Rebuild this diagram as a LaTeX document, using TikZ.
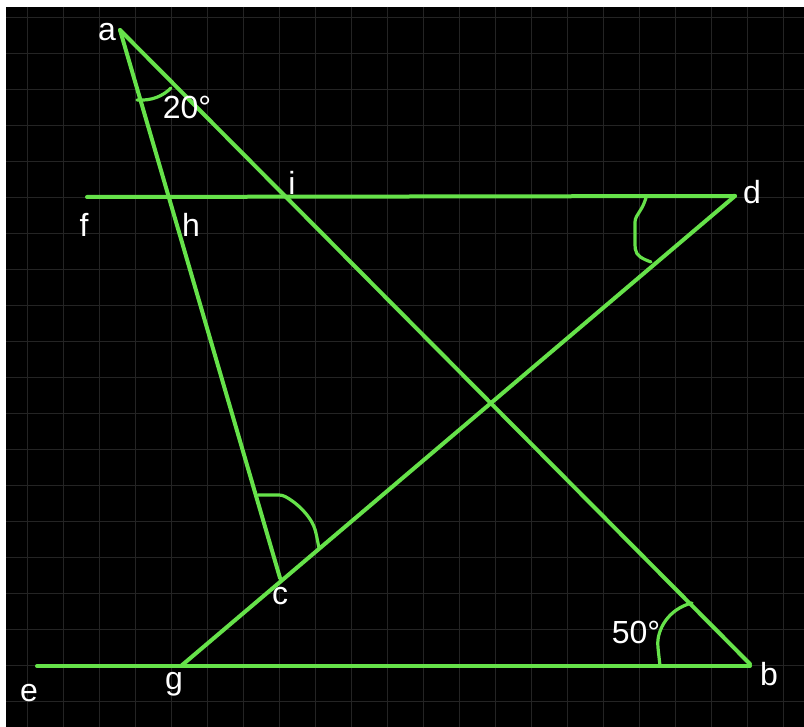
\documentclass[tikz,border=0pt]{standalone}
\usepackage{fontspec}
\setmainfont{Liberation Sans}
\definecolor{geo}{RGB}{102,226,74}
\definecolor{gridc}{RGB}{36,36,36}
\begin{document}
\begin{tikzpicture}[x=1pt,y=-1pt,
  seg/.style={draw=geo,line width=4pt,line cap=round,line join=round},
  anglemark/.style={draw=geo,line width=3.2pt,line cap=round,line join=round,rounded corners=3pt},
  lbl/.style={text=white,font=\fontsize{32}{38}\selectfont,inner sep=0pt,anchor=base}]
\useasboundingbox (0,0) rectangle (804,727);
\fill[white] (0,0) rectangle (804,727);
\fill[black] (6,7) rectangle (804,727);
\foreach \x in {27,63,...,799} \draw[gridc,line width=0.9pt] (\x,7) -- (\x,727);
\foreach \y in {17,53,...,725} \draw[gridc,line width=0.9pt] (6,\y) -- (804,\y);
% points
\coordinate (a) at (120,30);
\coordinate (b) at (750,664);
\coordinate (c) at (280,578);
\coordinate (d) at (735,196);
\coordinate (e) at (37,666);
\coordinate (f) at (87,197);
\coordinate (g) at (181,666);
\coordinate (bb) at (750,666);
% lines
\draw[seg] (f) -- (d);
\draw[seg] (e) -- (bb);
\draw[seg] (a) -- (b);
\draw[seg] (a) -- (c);
\draw[seg] (g) -- (d);
% angle marks
\draw[anglemark] (137,100) .. controls (152,101) and (163,96) .. (171,88);
\draw[anglemark] (646,198) -- (643,206) -- (635,219) -- (635,246) .. controls (636,256) and (643,259) .. (651,262);
\draw[anglemark] (258,495) -- (282,495) .. controls (298,503) and (312,518) .. (316,533) -- (319,548);
\draw[anglemark] (660,666) -- (658,648) .. controls (657,630) and (668,609) .. (692,603);
% labels
\node[lbl] (la) at (107,41) {a};
\node[lbl] (lb) at (769,685) {b};
\node[lbl] (lc) at (280,604) {c};
\node[lbl] (ld) at (752,204) {d};
\node[lbl] (le) at (29,701) {e};
\node[lbl] (lf) at (84,237) {f};
\node[lbl] (lg) at (174,689) {g};
\node[lbl] (lh) at (191,237) {h};
\node[lbl] (li) at (292,195) {i};
\node[lbl] (l20) at (187,119) {20°};
\node[lbl] (l50) at (636,643) {50°};
\end{tikzpicture}
\end{document}
